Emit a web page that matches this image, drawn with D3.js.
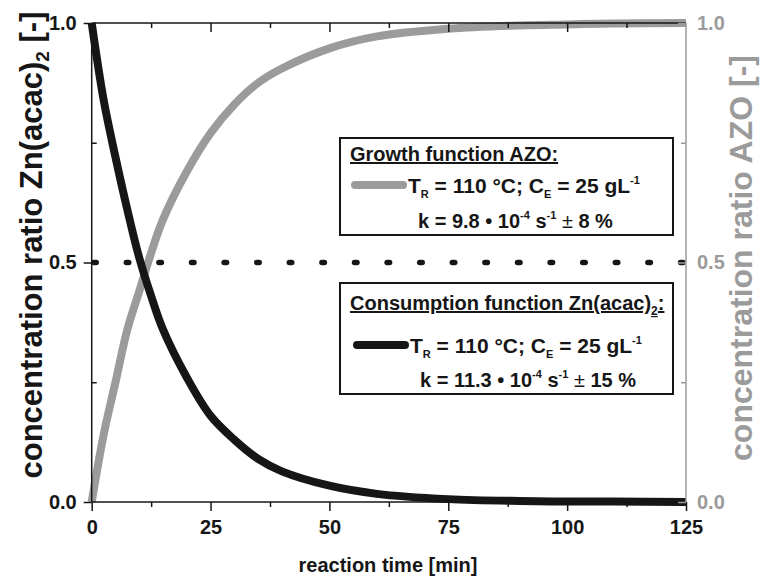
<!DOCTYPE html>
<html>
<head>
<meta charset="utf-8">
<script src="https://cdn.jsdelivr.net/npm/d3@7"></script>
<style>
  body { margin: 0; background: #fff; }
  svg { font-family: "Liberation Sans", Arial, sans-serif; }
  .domain { display: none; }
</style>
</head>
<body>
<svg width="760" height="579"></svg>
<script>
// reaction time [min]
const times = [0, 2.5, 5, 7.5, 10, 12.5, 15, 20, 25, 30, 35, 40, 50, 60, 75, 90, 100, 110, 125];
// Zn(acac)2 consumption (black)
const consumption = [1.0, 0.84, 0.72, 0.61, 0.51, 0.43, 0.36, 0.26, 0.18, 0.13, 0.09, 0.064, 0.034, 0.017, 0.006, 0.002, 0.001, 0.001, 0.0];
// AZO growth (grey)
const growth = [0.0, 0.14, 0.25, 0.36, 0.44, 0.52, 0.59, 0.69, 0.77, 0.83, 0.875, 0.905, 0.947, 0.972, 0.988, 0.995, 0.997, 0.999, 1.0];

const xMajor = [0, 25, 50, 75, 100, 125];
const xMinor = [12.5, 37.5, 62.5, 87.5, 112.5];
const yMajor = [0, 0.5, 1.0];
const yMinor = [0.25, 0.75];
const halfLine = 0.5;

const black = '#161616';
const grey = '#9b9b9b';

const svg = d3.select('svg');
const L = 91.7, R = 686, T = 23, B = 502;

const x = d3.scaleLinear().domain([0, 125]).range([L, R]);
const y = d3.scaleLinear().domain([0, 1]).range([B, T]);

// dotted 0.5 line
svg.append('line')
    .attr('x1', x(0) + 2).attr('x2', x(125))
    .attr('y1', y(halfLine)).attr('y2', y(halfLine))
    .attr('stroke', black)
    .attr('stroke-width', 5.5)
    .attr('stroke-linecap', 'round')
    .attr('stroke-dasharray', '2.5 30.1');

// curves
const line = d3.line().curve(d3.curveCatmullRom.alpha(0.5));
svg.append('path')
    .attr('d', line(times.map((t, i) => [x(t), y(growth[i])])))
    .attr('fill', 'none').attr('stroke', grey).attr('stroke-width', 8);
svg.append('path')
    .attr('d', line(times.map((t, i) => [x(t), y(consumption[i])])))
    .attr('fill', 'none').attr('stroke', black).attr('stroke-width', 8);

// frame
svg.append('line').attr('x1', L).attr('x2', R).attr('y1', T).attr('y2', T).attr('stroke', black).attr('stroke-width', 1.5);
svg.append('line').attr('x1', L).attr('x2', R).attr('y1', B).attr('y2', B).attr('stroke', black).attr('stroke-width', 1.5);
svg.append('line').attr('x1', L).attr('x2', L).attr('y1', T).attr('y2', B).attr('stroke', black).attr('stroke-width', 1.5);
svg.append('line').attr('x1', R).attr('x2', R).attr('y1', T).attr('y2', B).attr('stroke', grey).attr('stroke-width', 1.5);

function styleAxis(g, color) {
    g.selectAll('.tick line').attr('stroke', color).attr('stroke-width', 1.5);
    g.selectAll('.tick text').attr('fill', color).attr('font-size', 20).attr('font-weight', 'bold')
        .attr('font-family', '"Liberation Sans", Arial, sans-serif');
}

// bottom axis
const gb = svg.append('g').attr('transform', `translate(0,${B})`)
    .call(d3.axisBottom(x).tickValues(xMajor).tickSize(9).tickPadding(9).tickFormat(d3.format('d')));
styleAxis(gb, black);
const gbm = svg.append('g').attr('transform', `translate(0,${B})`)
    .call(d3.axisBottom(x).tickValues(xMinor).tickSize(5).tickFormat(''));
styleAxis(gbm, black);

// top axis (inward ticks)
const gt = svg.append('g').attr('transform', `translate(0,${T})`)
    .call(d3.axisTop(x).tickValues(xMajor.slice(1, -1)).tickSize(-9).tickFormat(''));
styleAxis(gt, black);
const gtm = svg.append('g').attr('transform', `translate(0,${T})`)
    .call(d3.axisTop(x).tickValues(xMinor).tickSize(-5).tickFormat(''));
styleAxis(gtm, black);

// left axis
const gl = svg.append('g').attr('transform', `translate(${L},0)`)
    .call(d3.axisLeft(y).tickValues(yMajor).tickSize(8).tickPadding(7).tickFormat(d3.format('.1f')));
styleAxis(gl, black);
const glm = svg.append('g').attr('transform', `translate(${L},0)`)
    .call(d3.axisLeft(y).tickValues(yMinor).tickSize(-5).tickFormat(''));
styleAxis(glm, black);

// right axis (grey)
const gr = svg.append('g').attr('transform', `translate(${R},0)`)
    .call(d3.axisRight(y).tickValues(yMajor).tickSize(-8).tickPadding(11).tickFormat(d3.format('.1f')));
styleAxis(gr, grey);
const grm = svg.append('g').attr('transform', `translate(${R},0)`)
    .call(d3.axisRight(y).tickValues(yMinor).tickSize(-5).tickFormat(''));
styleAxis(grm, grey);

// axis titles
svg.append('text')
    .attr('x', 388).attr('y', 572)
    .attr('text-anchor', 'middle')
    .attr('font-size', 20).attr('font-weight', 'bold').attr('fill', black)
    .text('reaction time [min]');

const ly = svg.append('text')
    .attr('transform', 'translate(42,245) rotate(-90)')
    .attr('text-anchor', 'middle')
    .attr('font-size', 31).attr('font-weight', 'bold').attr('fill', black);
ly.append('tspan').text('concentration ratio Zn(acac)');
ly.append('tspan').attr('font-size', 19).attr('dy', 7).text('2');
ly.append('tspan').attr('dy', -7).text(' [-]');

svg.append('text')
    .attr('transform', 'translate(752,258) rotate(-90)')
    .attr('text-anchor', 'middle')
    .attr('font-size', 32).attr('font-weight', 'bold').attr('fill', grey)
    .text('concentration ratio AZO [-]');

// legend boxes
function legendBox(box) {
    const g = svg.append('g');
    g.append('rect')
        .attr('x', box.x).attr('y', box.y).attr('width', box.w).attr('height', box.h)
        .attr('fill', '#fff').attr('stroke', black).attr('stroke-width', 2);
    const title = g.append('text')
        .attr('x', box.x + 10).attr('y', box.y + box.titleDy)
        .attr('font-size', 20).attr('font-weight', 'bold').attr('fill', black)
        .attr('text-decoration', 'underline');
    box.title.forEach(p => {
        const ts = title.append('tspan').text(p.t);
        if (p.sub) ts.attr('font-size', 12).attr('dy', 5);
        if (p.up) ts.attr('dy', -5);
    });
    g.append('line')
        .attr('x1', box.x + box.lx1).attr('x2', box.x + box.lx2)
        .attr('y1', box.y + box.ly).attr('y2', box.y + box.ly)
        .attr('stroke', box.color).attr('stroke-width', 8).attr('stroke-linecap', 'round');
    const t1 = g.append('text')
        .attr('x', box.x + box.tx1).attr('y', box.y + box.ty1)
        .attr('font-size', 21).attr('font-weight', 'bold').attr('fill', black);
    t1.append('tspan').text('T');
    t1.append('tspan').attr('font-size', 11).attr('dy', 5).text('R');
    t1.append('tspan').attr('dy', -5).text(' = 110 °C; C');
    t1.append('tspan').attr('font-size', 11).attr('dy', 5).text('E');
    t1.append('tspan').attr('dy', -5).text(' = 25 gL');
    t1.append('tspan').attr('font-size', 11).attr('dy', -9).text('-1');
    const t2 = g.append('text')
        .attr('x', box.x + box.tx2).attr('y', box.y + box.ty2)
        .attr('font-size', 20).attr('font-weight', 'bold').attr('fill', black);
    t2.append('tspan').text(`k = ${box.k} • 10`);
    t2.append('tspan').attr('font-size', 11).attr('dy', -9).text('-4');
    t2.append('tspan').attr('dy', 9).text(' s');
    t2.append('tspan').attr('font-size', 11).attr('dy', -9).text('-1');
    t2.append('tspan').attr('dy', 9).attr('font-weight', 'normal').text(' ± ');
    t2.append('tspan').text(box.err);
}

legendBox({
    x: 340, y: 138, w: 333, h: 97, color: grey,
    title: [{ t: 'Growth function AZO:' }], titleDy: 23,
    lx1: 15, lx2: 63, ly: 47, tx1: 68, ty1: 55, tx2: 78, ty2: 90,
    k: '9.8', err: '8 %'
});
legendBox({
    x: 340, y: 283, w: 333, h: 111, color: black,
    title: [{ t: 'Consumption function Zn(acac)' }, { t: '2', sub: true }, { t: ':', up: true }], titleDy: 27,
    lx1: 17, lx2: 65, ly: 62, tx1: 70, ty1: 70, tx2: 80, ty2: 104,
    k: '11.3', err: '15 %'
});
</script>
</body>
</html>
